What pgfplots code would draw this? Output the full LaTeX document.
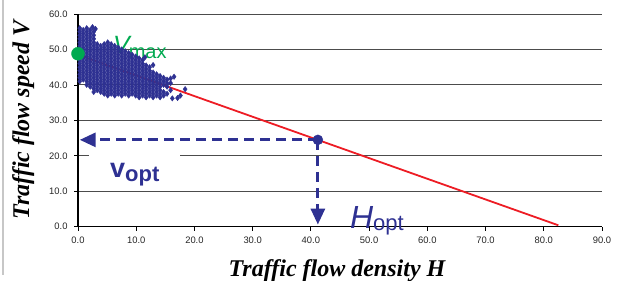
\documentclass[border=0pt]{standalone}
\usepackage{fontspec}
\setmainfont{Liberation Sans}
\newfontfamily\timesfont{Liberation Serif}
\usepackage{pgfplots}
\pgfplotsset{compat=1.18}
\usetikzlibrary{arrows.meta}
\definecolor{navy}{RGB}{46,49,146}
\definecolor{vgreen}{RGB}{0,170,80}
\definecolor{lred}{RGB}{237,28,36}
\begin{document}
\begin{tikzpicture}
\useasboundingbox (0bp,0bp) rectangle (619bp,281bp);
\draw[black!22, line width=1.2bp] (3bp,6bp) -- (3bp,281bp);
\begin{axis}[at={(78bp,54.3bp)}, anchor=south west, scale only axis,
  width=524bp, height=212.7bp,
  xmin=0, xmax=90, ymin=0, ymax=60,
  xtick={0,10,...,90}, ytick={0,10,...,60},
  axis lines*=left, axis line style={black, line width=1.1bp},
  ymajorgrids, grid style={black!70, line width=0.9bp},
  tick align=outside, major tick length=4bp, tick style={black, line width=0.8bp},
  ticklabel style={font=\fontsize{9.4bp}{11bp}\selectfont, text=black!85},
  yticklabel style={xshift=-3bp},
  xticklabel style={yshift=-3bp},
  /pgf/number format/.cd, fixed, fixed zerofill, precision=1, assume math mode=true,
  /pgfplots/.cd, clip=false]
\fill[white] (axis cs:1.9,19.2) rectangle (axis cs:17.5,20.8);
\addplot[only marks, mark=diamond*, mark size=2.7bp, navy, mark options={draw=navy, fill=navy}] coordinates {
(0.3,41)(0.3,42)(0.3,43)(0.3,44)(0.3,45)(0.3,46)(0.3,47)(0.3,48)(0.3,49)(0.3,50)(0.3,51)(0.3,52)(0.3,53)(0.3,54)(0.3,55)(0.3,56)
(0.9,41.5)(0.9,42.5)(0.9,43.5)(0.9,44.5)(0.9,45.5)(0.9,46.5)(0.9,47.5)(0.9,48.5)(0.9,49.5)(0.9,50.5)(0.9,51.5)(0.9,52.5)(0.9,53.5)(0.9,54.5)(0.9,55.5)
(1.5,40)(1.5,41)(1.5,42)(1.5,43)(1.5,44)(1.5,45)(1.5,46)(1.5,47)(1.5,48)(1.5,49)(1.5,50)(1.5,51)(1.5,52)(1.5,53)(1.5,54)(1.5,55)(1.5,56)
(2.1,39.5)(2.1,40.5)(2.1,41.5)(2.1,42.5)(2.1,43.5)(2.1,44.5)(2.1,45.5)(2.1,46.5)(2.1,47.5)(2.1,48.5)(2.1,49.5)(2.1,50.5)(2.1,51.5)(2.1,52.5)(2.1,53.5)(2.1,54.5)(2.1,55.5)
(2.7,38)(2.7,39)(2.7,40)(2.7,41)(2.7,42)(2.7,43)(2.7,44)(2.7,45)(2.7,46)(2.7,47)(2.7,48)(2.7,49)(2.7,50)(2.7,51)(2.7,52)(2.7,53)(2.7,54)(2.7,55)
(3.3,38.5)(3.3,39.5)(3.3,40.5)(3.3,41.5)(3.3,42.5)(3.3,43.5)(3.3,44.5)(3.3,45.5)(3.3,46.5)(3.3,47.5)(3.3,48.5)(3.3,49.5)(3.3,50.5)(3.3,51.5)
(3.9,38)(3.9,39)(3.9,40)(3.9,41)(3.9,42)(3.9,43)(3.9,44)(3.9,45)(3.9,46)(3.9,47)(3.9,48)(3.9,49)(3.9,50)(3.9,51)
(4.5,37.5)(4.5,38.5)(4.5,39.5)(4.5,40.5)(4.5,41.5)(4.5,42.5)(4.5,43.5)(4.5,44.5)(4.5,45.5)(4.5,46.5)(4.5,47.5)(4.5,48.5)(4.5,49.5)(4.5,50.5)(4.5,51.5)
(5.1,37)(5.1,38)(5.1,39)(5.1,40)(5.1,41)(5.1,42)(5.1,43)(5.1,44)(5.1,45)(5.1,46)(5.1,47)(5.1,48)(5.1,49)(5.1,50)(5.1,51)(5.1,52)
(5.7,37.5)(5.7,38.5)(5.7,39.5)(5.7,40.5)(5.7,41.5)(5.7,42.5)(5.7,43.5)(5.7,44.5)(5.7,45.5)(5.7,46.5)(5.7,47.5)(5.7,48.5)(5.7,49.5)(5.7,50.5)(5.7,51.5)
(6.3,37)(6.3,38)(6.3,39)(6.3,40)(6.3,41)(6.3,42)(6.3,43)(6.3,44)(6.3,45)(6.3,46)(6.3,47)(6.3,48)(6.3,49)(6.3,50)(6.3,51)
(6.9,37.5)(6.9,38.5)(6.9,39.5)(6.9,40.5)(6.9,41.5)(6.9,42.5)(6.9,43.5)(6.9,44.5)(6.9,45.5)(6.9,46.5)(6.9,47.5)(6.9,48.5)(6.9,49.5)(6.9,50.5)
(7.5,37)(7.5,38)(7.5,39)(7.5,40)(7.5,41)(7.5,42)(7.5,43)(7.5,44)(7.5,45)(7.5,46)(7.5,47)(7.5,48)(7.5,49)(7.5,50)
(8.1,37.5)(8.1,38.5)(8.1,39.5)(8.1,40.5)(8.1,41.5)(8.1,42.5)(8.1,43.5)(8.1,44.5)(8.1,45.5)(8.1,46.5)(8.1,47.5)(8.1,48.5)(8.1,49.5)
(8.7,37)(8.7,38)(8.7,39)(8.7,40)(8.7,41)(8.7,42)(8.7,43)(8.7,44)(8.7,45)(8.7,46)(8.7,47)(8.7,48)(8.7,49)
(9.3,37.5)(9.3,38.5)(9.3,39.5)(9.3,40.5)(9.3,41.5)(9.3,42.5)(9.3,43.5)(9.3,44.5)(9.3,45.5)(9.3,46.5)(9.3,47.5)(9.3,48.5)
(9.9,37)(9.9,38)(9.9,39)(9.9,40)(9.9,41)(9.9,42)(9.9,43)(9.9,44)(9.9,45)(9.9,46)(9.9,47)(9.9,48)
(10.5,36.5)(10.5,37.5)(10.5,38.5)(10.5,39.5)(10.5,40.5)(10.5,41.5)(10.5,42.5)(10.5,43.5)(10.5,44.5)(10.5,45.5)(10.5,46.5)(10.5,47.5)
(11.1,37)(11.1,38)(11.1,39)(11.1,40)(11.1,41)(11.1,42)(11.1,43)(11.1,44)(11.1,45)(11.1,46)(11.1,47)
(11.7,36.5)(11.7,37.5)(11.7,38.5)(11.7,39.5)(11.7,40.5)(11.7,41.5)(11.7,42.5)(11.7,43.5)(11.7,44.5)(11.7,45.5)
(12.3,37)(12.3,38)(12.3,39)(12.3,40)(12.3,41)(12.3,42)(12.3,43)(12.3,44)(12.3,45)
(12.9,36.5)(12.9,37.5)(12.9,38.5)(12.9,39.5)(12.9,40.5)(12.9,41.5)(12.9,42.5)(12.9,43.5)(12.9,45.6)
(13.5,37)(13.5,38)(13.5,39)(13.5,40)(13.5,41)(13.5,42)(13.5,43)
(14.1,36.5)(14.1,37.5)(14.1,38.5)(14.1,39.5)(14.1,40.5)(14.1,41.5)(14.1,42.5)
(14.7,37)(14.7,38)(14.7,40)(14.7,41)(14.7,42)
(15.3,37.5)(15.3,39.5)(15.3,40.5)(15.3,41.5)
(15.9,38.5)(15.9,40.5)(15.9,41.8)
(16.5,42.3)(16.2,36.2)(17.1,36.3)(17.6,37.0)(18.4,38.8)(11.5,47.8)(3.0,55.8)(2.5,56.3)
};
\addplot[lred, line width=1.8bp] coordinates {(0,48.5) (82.5,0.4)};
\addplot[navy, line width=3bp, dash pattern=on 10bp off 6bp, -{Triangle[length=16bp,width=14bp]}] coordinates {(41.2,24.5) (0.3,24.5)};
\addplot[navy, line width=3bp, dash pattern=on 10bp off 6bp, -{Triangle[length=16bp,width=14bp]}] coordinates {(41.2,24.5) (41.2,0.6)};
\addplot[only marks, mark=*, navy, mark size=5bp] coordinates {(41.2,24.5)};
\addplot[only marks, mark=*, vgreen, mark size=6.5bp] coordinates {(0,48.8)};
\node[anchor=base west, inner sep=0, text=vgreen] at (axis cs:6.0,48.95) {\fontsize{25bp}{25bp}\selectfont\itshape V\upshape\kern-1bp\raisebox{-5bp}{\fontsize{20bp}{20bp}\selectfont max}};
\node[anchor=base west, inner sep=0, text=navy] at (axis cs:5.5,13.74) {\bfseries\fontsize{27bp}{27bp}\selectfont v\raisebox{-4bp}{\fontsize{22bp}{22bp}\selectfont opt}};
\node[anchor=base west, inner sep=0, text=navy] at (axis cs:46.7,-0.37) {\fontsize{32bp}{32bp}\selectfont\itshape H\upshape\raisebox{-2bp}{\fontsize{22bp}{22bp}\selectfont opt}};
\end{axis}
\node[anchor=base, inner sep=0] at (337bp,5bp) {\timesfont\bfseries\itshape\fontsize{24bp}{24bp}\selectfont Traffic flow density H};
\node[anchor=base, inner sep=0, rotate=90] at (29bp,161bp) {\timesfont\bfseries\itshape\fontsize{24bp}{24bp}\selectfont Traffic flow speed V};
\end{tikzpicture}
\end{document}
